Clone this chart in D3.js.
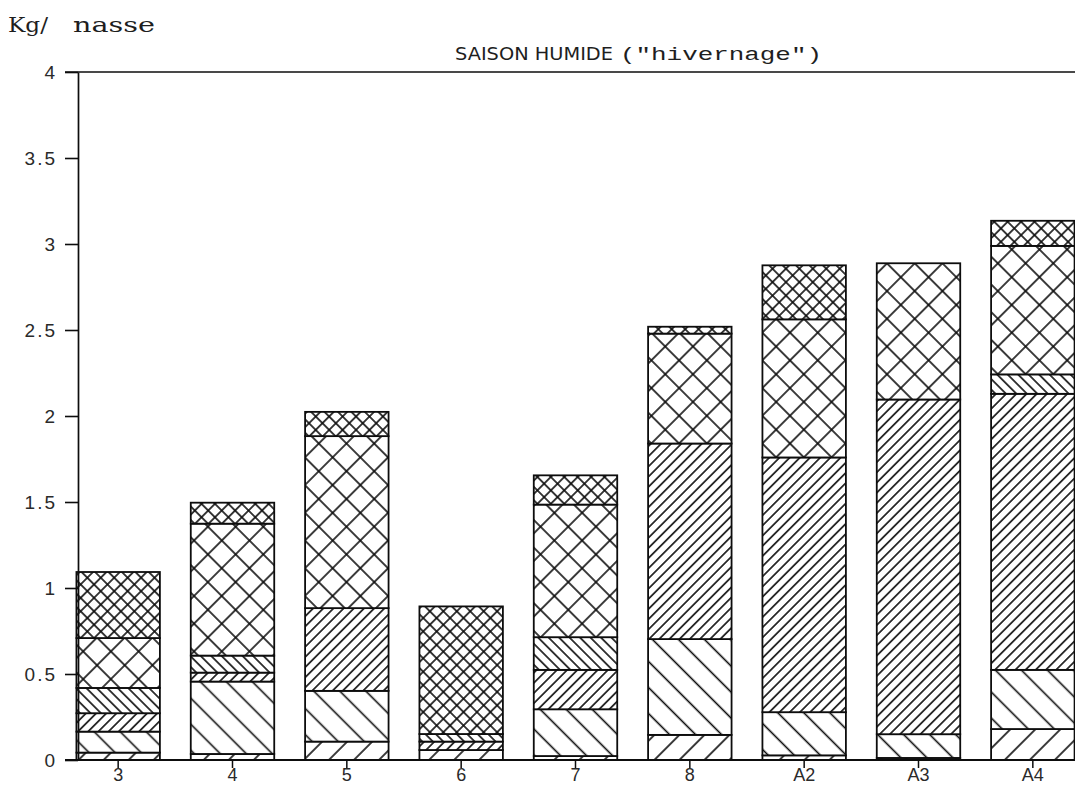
<!DOCTYPE html>
<html>
<head>
<meta charset="utf-8">
<script src="https://cdn.jsdelivr.net/npm/d3@7/dist/d3.min.js"></script>
<style>
  html, body { margin: 0; padding: 0; background: #fff; }
  svg { display: block; }
</style>
</head>
<body>
<svg id="chart" width="1075" height="807"></svg>
<script>
// Stations / sampling points along the x axis
const categories = ["3", "4", "5", "6", "7", "8", "A2", "A3", "A4"];

// Catch per trap (kg / nasse), one array per stacked group, bottom to top
const groupA = [0.043, 0.035, 0.107, 0.058, 0.023, 0.146, 0.027, 0.012, 0.180];
const groupB = [0.122, 0.421, 0.295, 0.000, 0.272, 0.557, 0.251, 0.138, 0.344];
const groupC = [0.107, 0.052, 0.481, 0.049, 0.229, 1.137, 1.481, 1.946, 1.605];
const groupD = [0.147, 0.099, 0.000, 0.044, 0.190, 0.000, 0.000, 0.000, 0.113];
const groupE = [0.290, 0.767, 1.000, 0.000, 0.771, 0.639, 0.803, 0.792, 0.747];
const groupF = [0.384, 0.122, 0.141, 0.742, 0.170, 0.040, 0.314, 0.000, 0.146];

// Y axis ticks
const yTicks = [0, 0.5, 1, 1.5, 2, 2.5, 3, 3.5, 4];

const seriesKeys = ["A", "B", "C", "D", "E", "F"];
const seriesValues = { A: groupA, B: groupB, C: groupC, D: groupD, E: groupE, F: groupF };

// Hatch styles for each group: line families and their spacing
const hatch = {
  A: { kind: "fwd", gap: 17.7 },
  B: { kind: "back", gap: 18.4 },
  C: { kind: "fwd", gap: 7.2 },
  D: { kind: "back", gap: 7.4 },
  E: { kind: "cross", gap: 19.6 },
  F: { kind: "cross", gap: 9.5 }
};

const rows = categories.map((c, i) => {
  const r = { cat: c };
  seriesKeys.forEach(k => { r[k] = seriesValues[k][i]; });
  return r;
});

const svg = d3.select("#chart");
const ink = "#0d0d0d";
const hatchWidth = 1.6;

const x = d3.scaleBand()
  .domain(categories)
  .range([61, 1090])
  .paddingInner(0.27)
  .paddingOuter(0.135);

const y = d3.scaleLinear().domain([0, 4]).range([760, 72]);

// Hatch patterns
const defs = svg.append("defs");
seriesKeys.forEach(k => {
  const h = hatch[k];
  const p = defs.append("pattern")
    .attr("id", "hatch-" + k)
    .attr("patternUnits", "userSpaceOnUse")
    .attr("width", h.gap)
    .attr("height", h.gap)
    .attr("patternTransform", "rotate(45)");
  p.append("rect").attr("width", h.gap).attr("height", h.gap).attr("fill", "#fff");
  const vertical = () => p.append("line")
    .attr("x1", h.gap / 2).attr("y1", -1).attr("x2", h.gap / 2).attr("y2", h.gap + 1)
    .attr("stroke", ink).attr("stroke-width", hatchWidth);
  const horizontal = () => p.append("line")
    .attr("x1", -1).attr("y1", h.gap / 2).attr("x2", h.gap + 1).attr("y2", h.gap / 2)
    .attr("stroke", ink).attr("stroke-width", hatchWidth);
  // after the 45deg rotation, vertical lines read "/" and horizontal lines read "\"
  if (h.kind === "fwd" || h.kind === "cross") vertical();
  if (h.kind === "back" || h.kind === "cross") horizontal();
});

// Stacked bars
const stacked = d3.stack().keys(seriesKeys)(rows);

svg.append("g")
  .selectAll("g")
  .data(stacked)
  .join("g")
  .attr("fill", d => "url(#hatch-" + d.key + ")")
  .selectAll("rect")
  .data(d => d.filter(s => s[1] - s[0] > 0))
  .join("rect")
  .attr("x", d => x(d.data.cat))
  .attr("width", x.bandwidth())
  .attr("y", d => y(d[1]))
  .attr("height", d => y(d[0]) - y(d[1]))
  .attr("stroke", ink)
  .attr("stroke-width", 1.8);

// Y axis
const yAxis = d3.axisLeft(y)
  .tickValues(yTicks)
  .tickFormat(d3.format(""))
  .tickSize(13)
  .tickSizeOuter(0)
  .tickPadding(8);

const gy = svg.append("g").attr("transform", "translate(78,0)").call(yAxis);
gy.select(".domain").attr("stroke", ink).attr("stroke-width", 1.7);
gy.selectAll(".tick line").attr("stroke", ink).attr("stroke-width", 1.6);
gy.selectAll(".tick text")
  .attr("fill", "#2a2a2a")
  .style("font-family", "'Liberation Sans', Arial, sans-serif")
  .style("font-size", "19px")
  .style("letter-spacing", "2px");

// Top frame line along the 4 level
svg.append("line")
  .attr("x1", 65).attr("x2", 1075)
  .attr("y1", y(4)).attr("y2", y(4))
  .attr("stroke", ink).attr("stroke-width", 1.7);

// X axis
const xAxis = d3.axisBottom(x).tickSize(8).tickSizeOuter(0).tickPadding(0);
const gx = svg.append("g").attr("transform", "translate(0," + y(0) + ")").call(xAxis);
gx.select(".domain").remove();
gx.selectAll(".tick line").attr("stroke", ink).attr("stroke-width", 1.5);
gx.selectAll(".tick text")
  .attr("fill", "#2a2a2a")
  .style("font-family", "'Liberation Sans', Arial, sans-serif")
  .style("font-size", "18px");
svg.append("line")
  .attr("x1", 65).attr("x2", 1075)
  .attr("y1", y(0)).attr("y2", y(0))
  .attr("stroke", ink).attr("stroke-width", 1.8);

// Unit label
const serif = "'DejaVu Serif', 'Liberation Serif', serif";
svg.append("text")
  .attr("x", 8).attr("y", 32)
  .attr("textLength", 40).attr("lengthAdjust", "spacingAndGlyphs")
  .style("font-family", serif).style("font-size", "21px").attr("fill", "#1e1e1e")
  .text("Kg/");
svg.append("text")
  .attr("x", 73).attr("y", 32)
  .attr("textLength", 82).attr("lengthAdjust", "spacingAndGlyphs")
  .style("font-family", serif).style("font-size", "21px").attr("fill", "#1e1e1e")
  .text("nasse");

// Title
svg.append("text")
  .attr("x", 455).attr("y", 60)
  .attr("textLength", 158).attr("lengthAdjust", "spacingAndGlyphs")
  .style("font-family", "'Liberation Sans Narrow', 'DejaVu Sans Condensed', sans-serif")
  .style("font-size", "17px").attr("fill", "#1e1e1e")
  .text("SAISON HUMIDE");
svg.append("text")
  .attr("x", 620).attr("y", 60)
  .attr("textLength", 202).attr("lengthAdjust", "spacingAndGlyphs")
  .style("font-family", "'Liberation Mono', 'DejaVu Sans Mono', monospace")
  .style("font-size", "18px").attr("fill", "#1e1e1e")
  .text("(\"hivernage\")");
</script>
</body>
</html>
